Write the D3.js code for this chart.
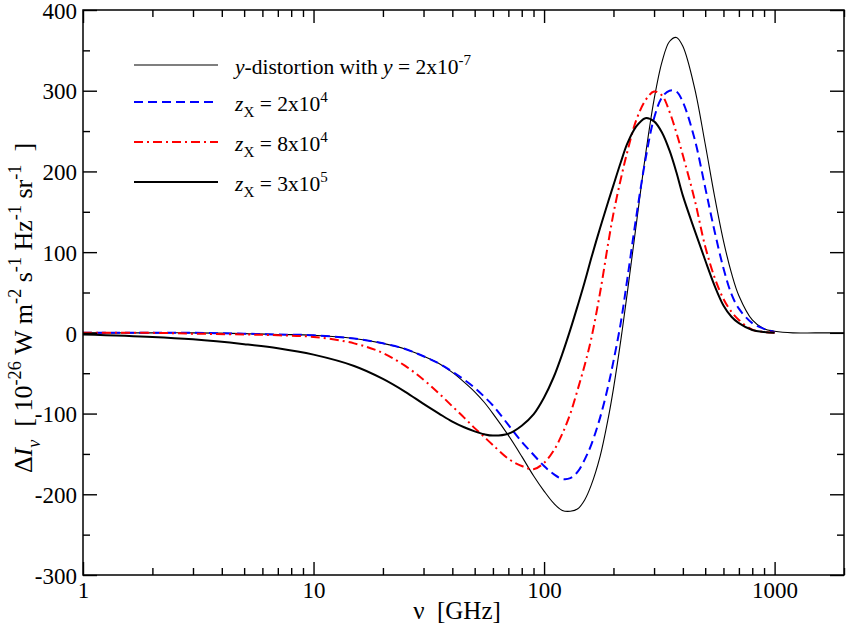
<!DOCTYPE html>
<html>
<head>
<meta charset="UTF-8">
<title>y-distortion</title>
<script src="https://d3js.org/d3.v7.min.js"></script>
<style>
    body { margin: 0; background: #fff; }
    text { font-family: "Liberation Serif", "Times New Roman", serif; fill: #000; }
    .tick line { stroke: #000; stroke-width: 1.4; }
</style>
</head>
<body>
<svg id="chart" width="847" height="628"></svg>
<script>
// frequencies in GHz
const nu = [1, 2, 3, 5, 7, 10, 15, 20, 25, 30, 35, 40, 45, 50, 55, 60, 70, 80, 90, 100,
            110, 120, 130, 140, 150, 160, 175, 190, 200, 215, 230, 250, 275, 300, 325, 350, 375, 400, 450, 500,
            550, 600, 650, 700, 800, 900, 1000, 1200, 1500, 2000];

// Delta I_nu in 1e-26 W m^-2 s^-1 Hz^-1 sr^-1
const yDist = [0, 0, 0, -1, -2, -3, -7, -13, -20, -29, -38, -49, -61, -73, -86, -100, -127, -153, -177, -196,
               -211, -220, -221, -218, -207, -189, -153, -105, -69, -10, 51, 130, 219, 289, 336, 361, 366, 355, 303, 234,
               168, 114, 74, 46, 16, 5, 2, 0, 0, 0];
const zx2e4 = [0, 0, 0, -1, -2, -3, -7, -13, -20, -29, -38, -48, -58, -68, -79, -90, -114, -135, -151, -165,
               -175, -181, -180, -172, -157, -139, -105, -65, -35, 12, 68, 140, 214, 266, 292, 300, 299, 286, 240, 180,
               125, 80, 48, 30, 12, 5, 1, null, null, null];
const zx8e4 = [0, 0, -1, -2, -3, -5, -13, -25, -41, -58, -75, -91, -105, -118, -129, -139, -156, -165, -169, -161,
               -146, -125, -100, -70, -40, -8, 50, 112, 148, 190, 225, 262, 288, 299, 294, 274, 248, 220, 165, 107,
               68, 42, 26, 16, 4, 1, 0, null, null, null];
const zx3e5 = [-2, -5, -8, -14, -19, -27, -41, -57, -73, -88, -100, -110, -117, -122, -125.6, -127.3, -125, -115, -101, -80,
               -55, -26, 4, 34, 63, 92, 130, 163, 183, 211, 235, 255, 266, 262, 248, 226, 199, 170, 127, 90,
               58, 34, 20, 12, 3.5, 1, 0, null, null, null];

const xMajor = [1, 10, 100, 1000];
const xMinor = [2, 3, 4, 5, 6, 7, 8, 9, 20, 30, 40, 50, 60, 70, 80, 90, 200, 300, 400, 500, 600, 700, 800, 900, 2000];
const yMajor = [-300, -200, -100, 0, 100, 200, 300, 400];
const yMinor = [-250, -150, -50, 50, 150, 250, 350];

const series = [
    {values: yDist, color: "#000", width: 1.1, dash: null,
     label: [{t: "y", i: 1}, {t: "-distortion with "}, {t: "y", i: 1}, {t: " = 2x10"}, {t: "-7", sup: 1}]},
    {values: zx2e4, color: "#0000ff", width: 2, dash: "9,5",
     label: [{t: "z", i: 1}, {t: "X", sub: 1}, {t: " = 2x10"}, {t: "4", sup: 1}]},
    {values: zx8e4, color: "#ff0000", width: 2, dash: "9,4,2,4",
     label: [{t: "z", i: 1}, {t: "X", sub: 1}, {t: " = 8x10"}, {t: "4", sup: 1}]},
    {values: zx3e5, color: "#000", width: 2, dash: null,
     label: [{t: "z", i: 1}, {t: "X", sub: 1}, {t: " = 3x10"}, {t: "5", sup: 1}]}
];

const svg = d3.select("#chart");
const plot = {left: 83, right: 844, top: 10, bottom: 575};

const x = d3.scaleLog().domain([1, 2000]).range([plot.left, plot.right]);
const y = d3.scaleLinear().domain([-300, 400]).range([plot.bottom, plot.top]);

// text with italic / sub / sup pieces
function rich(sel, parts, size) {
    let cur = 0;
    parts.forEach(p => {
        const ts = sel.append("tspan").text(p.t);
        const target = p.sup ? -0.42 * size : p.sub ? 0.3 * size : 0;
        if (target !== cur) ts.attr("dy", target - cur);
        cur = target;
        if (p.i) ts.style("font-style", "italic");
        if (p.sup || p.sub) ts.style("font-size", (0.7 * size) + "px");
    });
}

// curves
const line = d3.line()
    .defined(d => d[1] != null)
    .x(d => x(d[0]))
    .y(d => y(d[1]))
    .curve(d3.curveCatmullRom.alpha(0.5));

series.forEach(s => {
    svg.append("path")
        .datum(nu.map((n, i) => [n, s.values[i]]))
        .attr("fill", "none")
        .attr("stroke", s.color)
        .attr("stroke-width", s.width)
        .attr("stroke-dasharray", s.dash)
        .attr("d", line);
});

// axes, ticks inward on all four sides
const fontSize = 23;
const plain = d => String(d);
svg.append("g").attr("transform", `translate(0,${plot.bottom})`)
    .call(d3.axisBottom(x).tickValues(xMajor).tickSize(-13).tickPadding(7).tickFormat(plain));
svg.append("g").attr("transform", `translate(0,${plot.bottom})`)
    .call(d3.axisBottom(x).tickValues(xMinor).tickSize(-7).tickFormat(""));
svg.append("g").attr("transform", `translate(0,${plot.top})`)
    .call(d3.axisTop(x).tickValues(xMajor).tickSize(-13).tickFormat(""));
svg.append("g").attr("transform", `translate(0,${plot.top})`)
    .call(d3.axisTop(x).tickValues(xMinor).tickSize(-7).tickFormat(""));
svg.append("g").attr("class", "yaxis").attr("transform", `translate(${plot.left},0)`)
    .call(d3.axisLeft(y).tickValues(yMajor).tickSize(-14).tickPadding(6).tickFormat(plain));
svg.append("g").attr("transform", `translate(${plot.left},0)`)
    .call(d3.axisLeft(y).tickValues(yMinor).tickSize(-7).tickFormat(""));
svg.append("g").attr("transform", `translate(${plot.right},0)`)
    .call(d3.axisRight(y).tickValues(yMajor).tickSize(-14).tickFormat(""));
svg.append("g").attr("transform", `translate(${plot.right},0)`)
    .call(d3.axisRight(y).tickValues(yMinor).tickSize(-7).tickFormat(""));

svg.selectAll(".domain").remove();
svg.selectAll(".tick text")
    .style("font-family", '"Liberation Serif", serif')
    .style("font-size", fontSize + "px")
    .attr("fill", "#000");
svg.selectAll(".yaxis .tick text").attr("dy", "0.36em");

svg.append("rect")
    .attr("x", plot.left).attr("y", plot.top)
    .attr("width", plot.right - plot.left).attr("height", plot.bottom - plot.top)
    .attr("fill", "none").attr("stroke", "#000").attr("stroke-width", 1.5);

// axis titles
svg.append("text")
    .attr("x", 457).attr("y", 619)
    .attr("text-anchor", "middle")
    .style("font-size", "25px")
    .style("white-space", "pre")
    .text("ν  [GHz]");

const yTitle = svg.append("text")
    .attr("transform", "translate(32,308) rotate(-90)")
    .attr("text-anchor", "middle")
    .style("font-size", "26px")
    .style("white-space", "pre");
rich(yTitle, [{t: "Δ"}, {t: "I", i: 1}, {t: "ν", sub: 1, i: 1}, {t: "  [ 10"}, {t: "-26", sup: 1},
              {t: " W m"}, {t: "-2", sup: 1}, {t: " s"}, {t: "-1", sup: 1}, {t: " Hz"}, {t: "-1", sup: 1},
              {t: " sr"}, {t: "-1", sup: 1}, {t: "  ]"}], 26);

// legend
const rowY = [65, 102, 142, 182];
series.forEach((s, i) => {
    svg.append("line")
        .attr("x1", 134).attr("x2", 218)
        .attr("y1", rowY[i]).attr("y2", rowY[i])
        .attr("stroke", s.color)
        .attr("stroke-width", s.width)
        .attr("stroke-dasharray", s.dash);
    const t = svg.append("text")
        .attr("x", 235).attr("y", rowY[i] + 9)
        .style("font-size", "21.5px");
    rich(t, s.label, 21.5);
});
</script>
</body>
</html>
